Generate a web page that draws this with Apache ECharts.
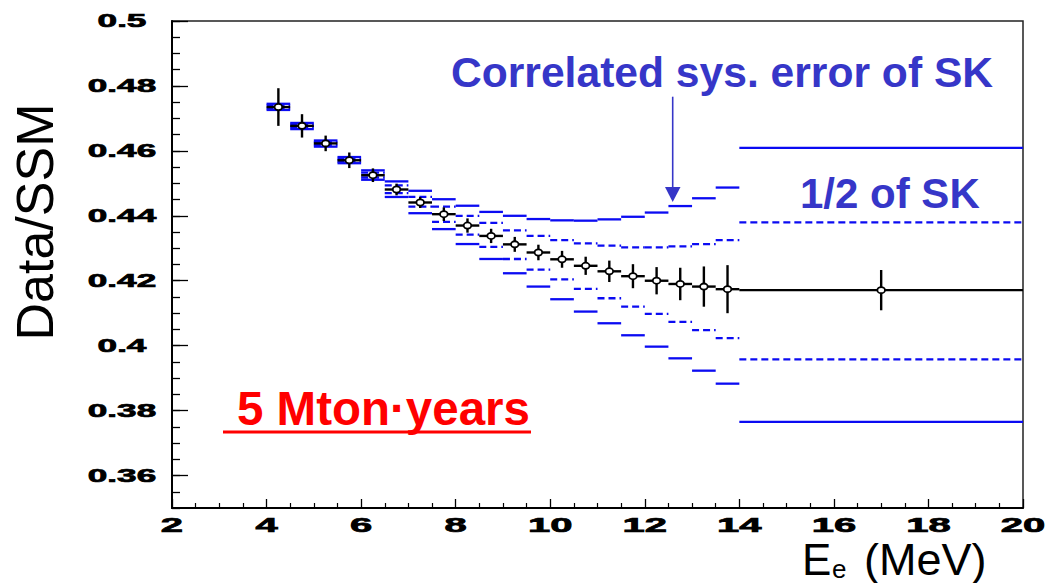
<!DOCTYPE html>
<html>
<head>
<meta charset="utf-8">
<script src="https://cdn.jsdelivr.net/npm/echarts@6/dist/echarts.min.js"></script>
<style>
html,body{margin:0;padding:0;background:#fff;}
#chart{width:1050px;height:583px;}
</style>
</head>
<body>
<div id="chart"></div>
<script>
// ---- data ----
const energy  = [4.25,4.75,5.25,5.75,6.25,6.75,7.25,7.75,8.25,8.75,9.25,9.75,10.25,10.75,11.25,11.75,12.25,12.75,13.25,13.75,17];
const binLow  = [4.0,4.5,5.0,5.5,6.0,6.5,7.0,7.5,8.0,8.5,9.0,9.5,10.0,10.5,11.0,11.5,12.0,12.5,13.0,13.5,14];
const binHigh = [4.5,5.0,5.5,6.0,6.5,7.0,7.5,8.0,8.5,9.0,9.5,10.0,10.5,11.0,11.5,12.0,12.5,13.0,13.5,14.0,20];
const ratio   = [0.4735,0.4677,0.4623,0.4571,0.4525,0.4481,0.4441,0.4405,0.4370,0.4338,0.4312,0.4287,0.4266,0.4246,0.4229,0.4214,0.4200,0.4190,0.4182,0.4174,0.4171];
const statErr = [0.0058,0.0036,0.0024,0.0024,0.0021,0.0018,0.0017,0.0021,0.0022,0.0022,0.0023,0.0024,0.0026,0.0028,0.0033,0.0037,0.0042,0.0050,0.0062,0.0074,0.0062];
const sysFullUpper = [0.4745,0.4686,0.4632,0.4581,0.4540,0.4506,0.4477,0.4451,0.4431,0.4412,0.4400,0.4390,0.4386,0.4385,0.4389,0.4397,0.4410,0.4430,0.4454,0.4487,0.4609];
const sysHalfUpper = [0.4740,0.4681,0.4627,0.4575,0.4533,0.4494,0.4458,0.4428,0.4400,0.4378,0.4355,0.4338,0.4325,0.4315,0.4308,0.4303,0.4303,0.4306,0.4313,0.4325,0.4380];
const sysHalfLower = [0.4731,0.4673,0.4618,0.4567,0.4518,0.4470,0.4428,0.4381,0.4342,0.4304,0.4267,0.4234,0.4204,0.4175,0.4146,0.4120,0.4098,0.4073,0.4048,0.4023,0.3958];
const sysFullLower = [0.4726,0.4667,0.4613,0.4562,0.4511,0.4458,0.4408,0.4359,0.4313,0.4267,0.4223,0.4182,0.4143,0.4105,0.4069,0.4032,0.3997,0.3961,0.3923,0.3883,0.3765];
const yTickValues = [0.36,0.38,0.4,0.42,0.44,0.46,0.48,0.5];
const yTickLabels = ['0.36','0.38','0.4','0.42','0.44','0.46','0.48','0.5'];
const xTickValues = [2,4,6,8,10,12,14,16,18,20];
const xTickLabels = ['2','4','6','8','10','12','14','16','18','20'];

const BLUE = '#0b0bf2';
const TXTBLUE = '#3636c8';

const chart = echarts.init(document.getElementById('chart'), null, {renderer:'svg'});

function bandSeries(name, arr, dashed){
  return {
    type:'custom', name: name, xAxisIndex:0, yAxisIndex:0, silent:true, z:2,
    data: arr.map((v,i)=>[binLow[i], binHigh[i], v]),
    encode:{x:[0,1], y:2},
    renderItem:function(params, api){
      const a = api.coord([api.value(0), api.value(2)]);
      const b = api.coord([api.value(1), api.value(2)]);
      return {type:'line', shape:{x1:a[0],y1:a[1],x2:b[0],y2:b[1]},
        style:{stroke:BLUE, lineWidth:2.3, lineDash: dashed ? [7,4] : null, fill:null}};
    }
  };
}

const dataSeries = {
  type:'custom', name:'Data', xAxisIndex:0, yAxisIndex:0, silent:true, z:5,
  data: energy.map((e,i)=>[e, ratio[i], statErr[i], binLow[i], binHigh[i]]),
  encode:{x:0, y:1},
  renderItem:function(params, api){
    const e = api.value(0), v = api.value(1), er = api.value(2), lo = api.value(3), hi = api.value(4);
    const c = api.coord([e, v]);
    const t = api.coord([e, v+er]);
    const b = api.coord([e, v-er]);
    const l = api.coord([lo, v]);
    const r = api.coord([hi, v]);
    return {type:'group', children:[
      {type:'line', shape:{x1:t[0],y1:t[1],x2:b[0],y2:b[1]}, style:{stroke:'#000', lineWidth:2.4}},
      {type:'line', shape:{x1:l[0],y1:l[1],x2:r[0],y2:r[1]}, style:{stroke:'#000', lineWidth:2.4}},
      {type:'ellipse', shape:{cx:c[0],cy:c[1],rx:3.8,ry:3.1}, style:{fill:'#fff', stroke:'#000', lineWidth:1.8}}
    ]};
  }
};

chart.setOption({
  animation:false,
  backgroundColor:'#fff',
  grid:{left:172, right:27, top:21, bottom:75, show:true, borderColor:'#222', borderWidth:1.5, outerBoundsMode:'none'},
  xAxis:{
    type:'value', min:2, max:20, interval:2,
    axisLine:{show:true, onZero:false, lineStyle:{color:'#000', width:2}},
    axisTick:{show:true, inside:true, length:9, lineStyle:{color:'#000', width:1.3}},
    minorTick:{show:true, splitNumber:4, length:5, lineStyle:{color:'#000', width:1.2}},
    axisLabel:{show:false},
    splitLine:{show:false}, minorSplitLine:{show:false}
  },
  yAxis:[
    {
      type:'value', min:0.35, max:0.5, interval:0.005,
      axisLine:{show:true, onZero:false, lineStyle:{color:'#000', width:2}},
      axisTick:{show:true, inside:true, length:8, lineStyle:{color:'#000', width:1.3}},
      axisLabel:{show:false}, splitLine:{show:false}
    },
    {
      type:'value', min:0.35, max:0.5, position:'left',
      axisLine:{show:false},
      axisTick:{show:true, inside:true, length:16, customValues:yTickValues, lineStyle:{color:'#000', width:1.3}},
      axisLabel:{show:false},
      splitLine:{show:false}
    }
  ],
  series:[
    bandSeries('1/2 of SK (upper)', sysHalfUpper, true),
    bandSeries('1/2 of SK (lower)', sysHalfLower, true),
    bandSeries('SK correlated sys. (upper)', sysFullUpper, false),
    bandSeries('SK correlated sys. (lower)', sysFullLower, false),
    dataSeries
  ]
});

// Tick labels (wide, heavy ROOT-style font) placed through the axes' own scales
const tickGraphics = [];
yTickValues.forEach(function(v, i){
  const py = chart.convertToPixel({yAxisIndex:0}, v);
  tickGraphics.push({type:'text', x:122, y:py, scaleX:1.95, silent:true,
    style:{text:yTickLabels[i], font:'bold 18px "Liberation Sans"', fill:'#000', stroke:'#000', lineWidth:0.7, align:'center', verticalAlign:'middle'}});
});
xTickValues.forEach(function(v, i){
  const px = chart.convertToPixel({xAxisIndex:0}, v);
  tickGraphics.push({type:'text', x:px, y:525, scaleX:2.0, silent:true,
    style:{text:xTickLabels[i], font:'bold 20px "Liberation Sans"', fill:'#000', stroke:'#000', lineWidth:0.7, align:'center', verticalAlign:'middle'}});
});

const annotations = [
  {type:'text', x:451, y:72, style:{text:'Correlated sys. error of SK', font:'bold 42.6px "Liberation Sans"', fill:TXTBLUE, align:'left', verticalAlign:'middle'}},
  {type:'text', x:800, y:193, style:{text:'1/2 of SK', font:'bold 42px "Liberation Sans"', fill:TXTBLUE, align:'left', verticalAlign:'middle'}},
  {type:'line', shape:{x1:672.7, y1:96.7, x2:672.7, y2:190}, style:{stroke:TXTBLUE, lineWidth:1.6}},
  {type:'polygon', shape:{points:[[665,187],[680.5,187],[672.7,202]]}, style:{fill:TXTBLUE}},
  {type:'text', x:237, y:408, style:{text:'5 Mton\u00b7years', font:'bold 47.5px "Liberation Sans"', fill:'#ff0000', align:'left', verticalAlign:'middle'}},
  {type:'line', shape:{x1:223, y1:432, x2:531, y2:432}, style:{stroke:'#ff0000', lineWidth:3}},
  {type:'text', x:35, y:222, rotation:Math.PI/2, style:{text:'Data/SSM', font:'52px "Liberation Sans"', fill:'#000', align:'center', verticalAlign:'middle'}},
  {type:'text', x:802, y:559, style:{text:'E', font:'44px "Liberation Sans"', fill:'#000', align:'left', verticalAlign:'middle'}},
  {type:'text', x:832, y:569, style:{text:'e', font:'26px "Liberation Sans"', fill:'#000', align:'left', verticalAlign:'middle'}},
  {type:'text', x:864, y:559, style:{text:'(MeV)', font:'45px "Liberation Sans"', fill:'#000', align:'left', verticalAlign:'middle'}}
];

chart.setOption({graphic: tickGraphics.concat(annotations)});
</script>
</body>
</html>
